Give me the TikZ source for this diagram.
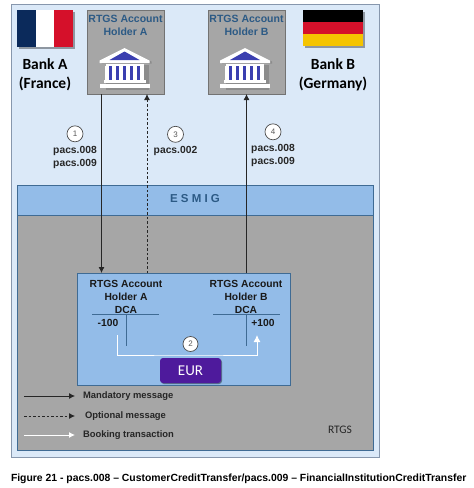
\documentclass[tikz,border=0pt]{standalone}
\usepackage{fontspec}
\setmainfont{Liberation Sans}
\newfontfamily\carlito{Carlito}
\usetikzlibrary{positioning,arrows.meta,shadows}

\definecolor{panelblue}{HTML}{DBE9F8}
\definecolor{panelline}{HTML}{8797AD}
\definecolor{greyfill}{HTML}{A6A6A6}
\definecolor{bandblue}{HTML}{93BCE8}
\definecolor{darkline}{HTML}{3F6B94}
\definecolor{titleblue}{HTML}{2C5A85}
\definecolor{eurpurple}{HTML}{4E1A9C}
\definecolor{iconblue}{HTML}{3B3FB0}
\definecolor{flagnavy}{HTML}{0B2A5B}
\definecolor{flagred}{HTML}{D5102A}
\definecolor{flagyellow}{HTML}{F5C400}

\tikzset{
    bank/.pic={
        \fill[black!45] (-23,1) -- (1,-11) -- (27,1) -- (27,3) -- (-23,3) -- cycle;
        \fill[black!45] (-19,4) rectangle (24,29);
        \fill[white] (-25,0) -- (0,-12.5) -- (25,0) -- (25,2.5) -- (-25,2.5) -- cycle;
        \fill[iconblue] (-15,-0.5) -- (0,-9) -- (15,-0.5) -- cycle;
        \fill[white] (-19,3) rectangle (19,5);
        \fill[iconblue] (-18,5) rectangle (18,19);
        \foreach \colx in {-18,-11,-4,3,10,17}
            \fill[white] (\colx-2,5) rectangle (\colx+2,19);
        \fill[white] (-21,19) rectangle (21,22);
        \fill[white] (-25,23.5) rectangle (25,27);
    }
}

\begin{document}
\begin{tikzpicture}[
        x=1pt, y=-1pt,
        node distance=4pt and 6pt,
        every node/.style={outer sep=0pt},
        panel/.style={rectangle, draw=panelline, fill=panelblue, line width=0.9pt, anchor=north west, inner sep=0pt},
        acct/.style={panel, draw=black!55, fill=greyfill, minimum width=77pt, minimum height=84pt},
        acctlabel/.style={align=center, font=\bfseries\fontsize{10.5}{13.2}\selectfont, text=titleblue, inner sep=0pt},
        band/.style={panel, draw=darkline, fill=bandblue, minimum width=356pt},
        banklabel/.style={align=center, font=\carlito\bfseries\fontsize{15.5}{19}\selectfont, inner sep=0pt},
        msglabel/.style={align=center, font=\bfseries\fontsize{10.3}{13}\selectfont, text=black!85, inner sep=0pt},
        dcalabel/.style={msglabel, text=black!90},
        stepnum/.style={circle, draw=black!70, fill=white, line width=0.7pt, minimum size=16pt, inner sep=0pt, font=\fontsize{8}{8}\selectfont, text=black!65},
        legendlabel/.style={anchor=west, inner sep=0pt, font=\bfseries\fontsize{9.4}{11}\selectfont, text=black!85},
        arrow/.style={-{Latex[length=6pt,width=6pt]}, line width=0.8pt, draw=black!85},
        dashedarrow/.style={arrow, dashed, dash pattern=on 2.5pt off 2pt},
        bookarrow/.style={-{Latex[length=7pt,width=7pt]}, line width=1pt, draw=white},
        ledger/.style={line width=1pt, draw=darkline},
        flagshadow/.style={drop shadow={shadow xshift=1.5pt, shadow yshift=-1.5pt, opacity=0.35, fill=black}}
    ]

    \useasboundingbox (0,0) rectangle (474,488);

    % frames
    \node[panel, minimum width=368pt, minimum height=453pt] (outer) at (11,4) {};
    \node[band, minimum height=30pt] (esmig) at (17,185) {};
    \node[band, fill=greyfill, minimum height=235pt] (rtgs) at (17,215) {};
    \node[panel, draw=darkline, fill=bandblue, minimum width=213pt, minimum height=112pt] (dca) at (77,273) {};
    \node[font=\bfseries\fontsize{11.5}{13}\selectfont, text=titleblue] (esmigtext) at (195,199) {E S M I G};
    \node[font=\carlito\fontsize{11.5}{13}\selectfont, text=black!85] (rtgstext) at (340,430) {RTGS};

    % flags
    \node[panel, draw=none, fill=white, flagshadow, minimum width=56pt, minimum height=37pt] (france) at (17,10) {};
    \fill[flagnavy] (france.north west) rectangle ([xshift=19pt]france.south west);
    \fill[flagred] ([xshift=-19pt]france.north east) rectangle (france.south east);
    \node[panel, draw=none, fill=black, flagshadow, minimum width=60pt, minimum height=36pt] (germany) at (303,10) {};
    \fill[flagred] ([yshift=-12pt]germany.north west) rectangle ([yshift=12pt]germany.south east);
    \fill[flagyellow] ([yshift=12pt]germany.south west) rectangle (germany.south east);
    \node[banklabel, below=12pt of france] (bankA) {Bank A\\(France)};
    \node[banklabel, below=13pt of germany] (bankB) {Bank B\\(Germany)};

    % account holders
    \node[acct] (acctA) at (87,10) {};
    \node[acct] (acctB) at (208,10) {};
    \node[acctlabel, below=5pt of acctA.north] (titleA) {RTGS Account\\Holder A};
    \node[acctlabel, below=5pt of acctB.north] (titleB) {RTGS Account\\Holder B};
    \pic at (124.5,60.5) {bank};
    \pic at (245,60.5) {bank};

    % messages
    \draw[arrow] ([xshift=-24pt]acctA.south) -- ([xshift=-24pt]acctA.south |- dca.north);
    \draw[dashedarrow] ([xshift=21.5pt]acctA.south |- dca.north) -- ([xshift=21.5pt]acctA.south);
    \draw[arrow] (acctB.south |- dca.north) -- (acctB.south);

    \node[msglabel] (pacsA) at (75,157) {pacs.008\\pacs.009};
    \node[msglabel] (pacsC) at (175.5,151) {pacs.002};
    \node[msglabel] (pacsB) at (273,155) {pacs.008\\pacs.009};
    \node[stepnum, above=4pt of pacsA] (one) {1};
    \node[stepnum, above=4pt of pacsC] (three) {3};
    \node[stepnum, above=4pt of pacsB] (four) {4};

    % accounts inside RTGS
    \node[dcalabel] (dcaA) at (126,297) {RTGS Account\\Holder A\\DCA};
    \node[dcalabel] (dcaB) at (246,297) {RTGS Account\\Holder B\\DCA};
    \coordinate[below=1pt of dcaA] (topA);
    \coordinate[below=1pt of dcaB] (topB);
    \draw[ledger] ([xshift=-34pt]topA) -- ([xshift=33pt]topA);
    \draw[ledger] ([xshift=-33pt]topB) -- ([xshift=34pt]topB);
    \draw[ledger] (topA) -- ++(0,31);
    \draw[ledger] (topB) -- ++(0,31);
    \node[dcalabel] (minus) at (108,323) {-100};
    \node[dcalabel] (plus) at (263,323) {+100};

    \node[panel, draw=none, fill=eurpurple, rounded corners=3pt, minimum width=61pt, minimum height=25pt, drop shadow={shadow xshift=1pt, shadow yshift=-1pt, opacity=0.4, fill=black}, font=\carlito\fontsize{15}{15}\selectfont, text=white] (eur) at (160,358) {EUR};
    \coordinate (bookA) at (117,335);
    \coordinate (bookB) at (257,335);
    \draw[bookarrow] (bookA) |- (190,355) -| (bookB);
    \node[stepnum, minimum size=15pt] (two) at (190.5,344) {2};

    % legend
    \node[legendlabel] (mandatory) at (83,396) {Mandatory message};
    \node[legendlabel] (optional) at (85,416) {Optional message};
    \node[legendlabel] (booking) at (83,435) {Booking transaction};
    \coordinate (startM) at (24,396);
    \coordinate (startO) at (24,416);
    \coordinate (startB) at (24,435);
    \draw[arrow] (startM) -- ([xshift=-8pt]mandatory.west);
    \draw[dashedarrow] (startO) -- ([xshift=-10pt]optional.west);
    \draw[-{Latex[length=6pt,width=6pt]}, line width=1pt, draw=white] (startB) -- ([xshift=-8pt]booking.west);

    % caption
    \node[anchor=west, inner sep=0pt, font=\bfseries\fontsize{10.4}{12}\selectfont, text=black] (caption) at (11,479) {Figure 21 - pacs.008 – CustomerCreditTransfer/pacs.009 – FinancialInstitutionCreditTransfer};

\end{tikzpicture}
\end{document}
